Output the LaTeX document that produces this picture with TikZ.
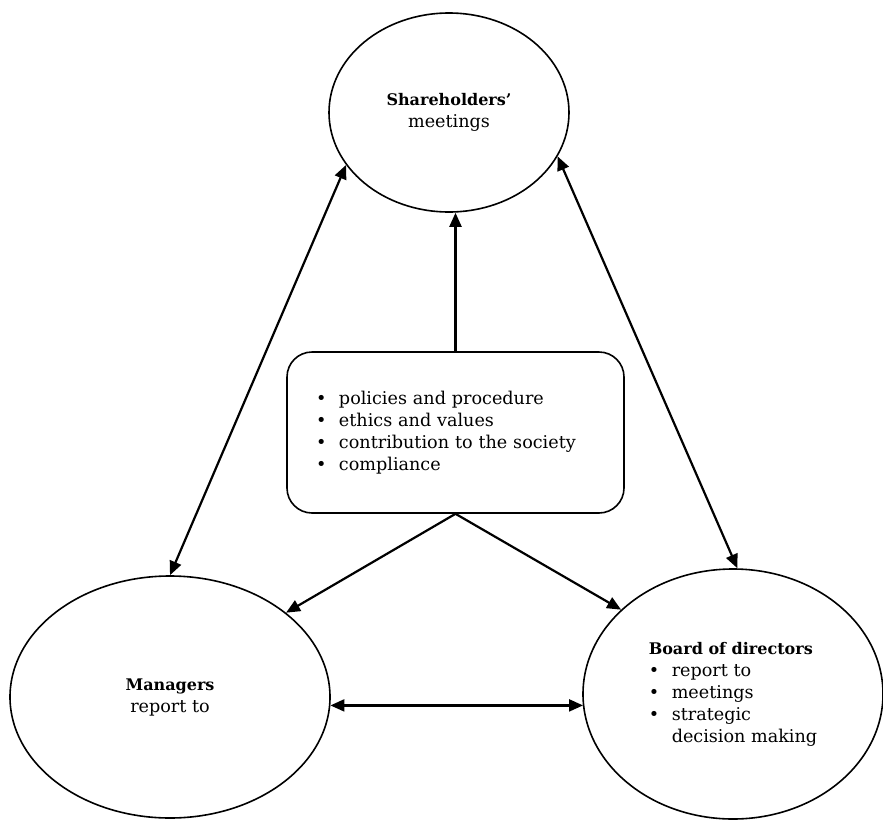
\documentclass[tikz,border=0pt]{standalone}
\usepackage{fontspec}
\setmainfont{DejaVu Serif}
\usetikzlibrary{shapes.geometric,arrows.meta}
\newcommand{\bul}[1]{\makebox[23pt][l]{\textbullet}#1}
\newcommand{\hd}[1]{{\fontsize{16}{22}\selectfont\textbf{#1}}}
\begin{document}
\begin{tikzpicture}[x=1pt,y=-1pt,
  ell/.style={ellipse,draw,line width=1.6pt,inner sep=0pt,font=\fontsize{17.6}{22}\selectfont},
  conn/.style={line width=2.2pt,-{Triangle[length=14pt,width=12pt]}},
  biconn/.style={line width=2.2pt,{Triangle[length=14pt,width=12pt]}-{Triangle[length=14pt,width=12pt]}},
  boxstyle/.style={rectangle,draw,line width=1.6pt,rounded corners=25pt,inner sep=0pt,font=\fontsize{17.6}{22}\selectfont}]
\useasboundingbox[fill=white] (0,0) rectangle (883,819);
\node[ell,minimum width=240pt,minimum height=199pt,align=center] (sh) at (449,112.5)
  {\hd{Shareholders’}\\meetings};
\node[ell,minimum width=320pt,minimum height=242pt,align=center] (mg) at (170,697)
  {\hd{Managers}\\report to};
\node[ell,minimum width=300pt,minimum height=250pt,align=left] (bd) at (733,694)
  {\hd{Board of directors}\\\bul{report to}\\\bul{meetings}\\\bul{strategic}\\\hspace*{23pt}decision making};
\node[boxstyle,minimum width=337pt,minimum height=161pt,text width=279pt,align=left] (box) at (455.5,432.5)
  {\bul{policies and procedure}\\\bul{ethics and values}\\\bul{contribution to the society}\\\bul{compliance}};
\draw[conn] (box.north) -- (box.north |- sh.south);
\draw[conn] (box.south) -- (mg.36.6);
\draw[conn] (box.south) -- (bd.143.6);
\draw[biconn] (sh.207.2) -- (mg.north);
\draw[biconn] (sh.338.9) -- (bd.88);
\draw[biconn] (mg.-3.6) -- (mg.-3.6 -| bd.185);
\end{tikzpicture}
\end{document}
